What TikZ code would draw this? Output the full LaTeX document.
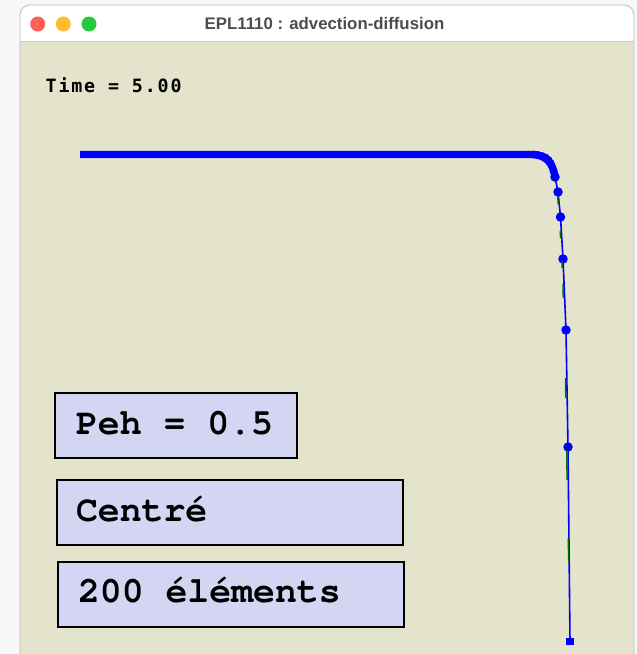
\documentclass[tikz,border=0pt]{standalone}
\usepackage[T1]{fontenc}
\usepackage{fontspec}
\newfontfamily\titlefont{Liberation Sans}
\newfontfamily\timefont[LetterSpace=10]{DejaVu Sans Mono}
\newcommand{\courb}{\fontencoding{T1}\fontfamily{pcr}\fontseries{b}\fontshape{n}\fontsize{36.5}{36.5}\selectfont}
\definecolor{beige}{RGB}{228,227,204}
\definecolor{lav}{RGB}{212,213,243}
\definecolor{titlegray}{RGB}{77,77,77}
\definecolor{framegray}{RGB}{190,190,190}
\definecolor{sepgray}{RGB}{205,205,190}
\definecolor{macred}{RGB}{254,95,87}
\definecolor{macyellow}{RGB}{254,188,46}
\definecolor{macgreen}{RGB}{40,200,64}
\definecolor{plotblue}{RGB}{0,0,255}
\definecolor{plotgreen}{RGB}{0,110,0}
\tikzset{
  infobox/.style={draw=black, line width=2pt, fill=lav, inner xsep=0pt, inner ysep=0pt,
    text height=17pt, text depth=0pt, font=\courb, anchor=north west},
  dot/.style={circle, fill=plotblue, inner sep=0pt, minimum size=9.5pt},
  smalldot/.style={circle, fill=plotblue, inner sep=0pt, minimum size=8pt},
  enddot/.style={rectangle, fill=plotblue, inner sep=0pt, minimum size=7.5pt},
  light/.style={circle, inner sep=0pt, minimum size=15pt},
  thinline/.style={draw=plotblue, line width=1.6pt},
  greenseg/.style={draw=plotgreen, line width=1.5pt},
}
\begin{document}
\begin{tikzpicture}[x=1pt,y=-1pt]
\useasboundingbox (0,0) rectangle (637,654);
\fill[white!97!black] (0,0) rectangle (637,654);
% window
\begin{scope}
  \clip[rounded corners=10pt] (20,5) rectangle (634,662);
  \fill[beige] (20,5) rectangle (634,662);
  \fill[white] (20,5) rectangle (634,41);
\end{scope}
\draw[framegray, line width=0.8pt, rounded corners=10pt] (20,5) rectangle (634,662);
\draw[sepgray, line width=1pt] (20,41) -- (634,41);
% traffic lights
\node[light, fill=macred] (red) at (37.7,24) {};
\node[light, fill=macyellow] (yellow) at (63.3,24) {};
\node[light, fill=macgreen] (green) at (89,24) {};
\node[font=\titlefont\bfseries\fontsize{16.8}{17}\selectfont, text=titlegray, inner sep=0pt, anchor=base] (title) at (324.5,29.3) {EPL1110 : advection-diffusion};
% time
\node[font=\timefont\bfseries\fontsize{18.3}{18.3}\selectfont, anchor=base west, inner sep=0pt] (time) at (45.5,92.7) {Time = 5.00};
% thick horizontal part of the solution
\coordinate (start) at (80,154.4);
\coordinate (c0) at (530,154.4);
\node[dot] (p1) at (555,177) {};
\draw[plotblue, line width=7.3pt] (start) -- (c0) .. controls (545,154.4) and (553,162) .. (p1.center);
\foreach \x/\y in {534/154.5,538/155,542/156,545.5/157.5,548.5/160,550.5/163,552/166.5,553.5/171}
  \node[smalldot] at (\x,\y) {};
% nodes down the boundary layer
\node[dot] (p2) at (558,192) {};
\node[dot] (p3) at (560.5,217) {};
\node[dot] (p4) at (563,259) {};
\node[dot] (p5) at (566,330) {};
\node[dot] (p6) at (568,447) {};
\node[enddot] (p7) at (570,641.5) {};
\draw[thinline] (p1.center) -- (p2.center) -- (p3.center) -- (p4.center) -- (p5.center) -- (p6.center) -- (p7.center);
% green segments
\draw[greenseg] (557.8,197) -- (558.2,204);
\draw[greenseg] (560.3,231) -- (560.6,238);
\draw[greenseg] (562.0,261) -- (562.2,268);
\draw[greenseg] (563.0,284) -- (563.3,298);
\draw[greenseg] (565.6,378) -- (565.8,398);
\draw[greenseg] (566.8,450) -- (567.1,480);
\draw[greenseg] (568.4,538) -- (568.6,561);
% info boxes
\node[infobox, minimum width=242pt, minimum height=65pt] (peh) at (54,392) {\hspace*{21pt}\makebox[221pt][l]{Peh = 0.5}};
\node[infobox, minimum width=346pt, minimum height=65pt] (scheme) at (56,479) {\hspace*{19pt}\makebox[327pt][l]{Centr\'e}};
\node[infobox, minimum width=346pt, minimum height=65pt] (elems) at (57,560.5) {\hspace*{20pt}\makebox[326pt][l]{200 \'el\'ements}};
\end{tikzpicture}
\end{document}
